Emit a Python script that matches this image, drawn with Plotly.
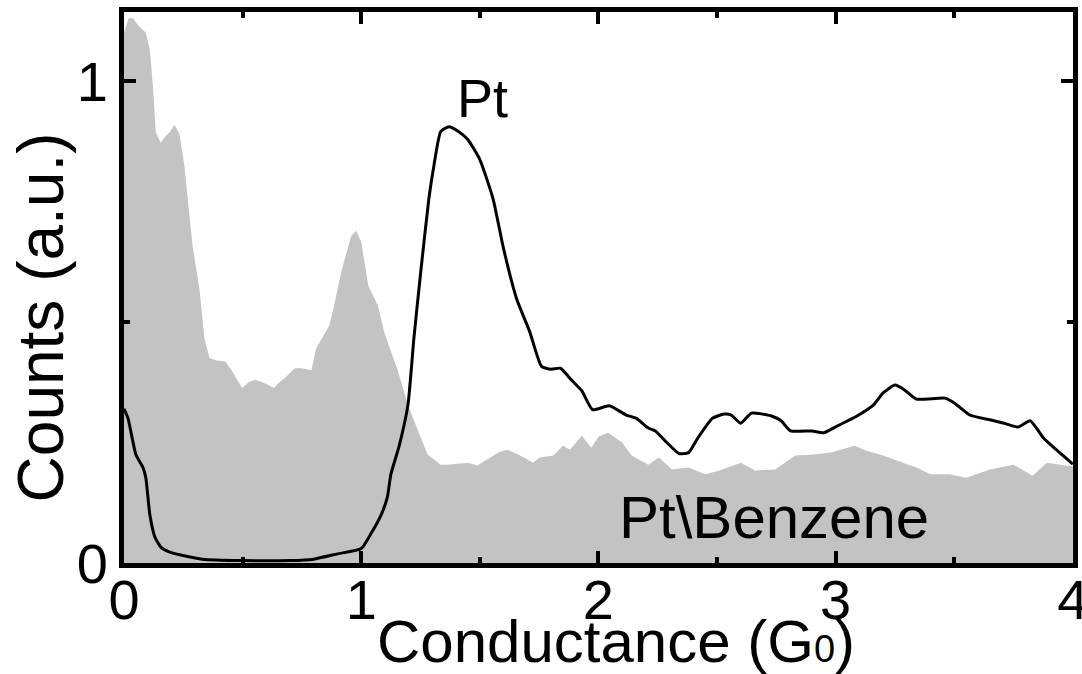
import plotly.graph_objects as go

# Pt\Benzene histogram (grey filled area)
benz_x = [0.0, 0.02, 0.038, 0.06, 0.092, 0.109, 0.121, 0.134, 0.155, 0.175, 0.192, 0.213, 0.234,
          0.255, 0.276, 0.289, 0.318, 0.339, 0.36, 0.39, 0.427, 0.456, 0.498, 0.525, 0.552, 0.594,
          0.632, 0.655, 0.678, 0.72, 0.749, 0.79, 0.81, 0.84, 0.866, 0.883, 0.916, 0.958, 0.979,
          1.0, 1.03, 1.07, 1.096, 1.155, 1.197, 1.24, 1.28, 1.305, 1.335, 1.364, 1.405, 1.45, 1.49,
          1.544, 1.58, 1.615, 1.67, 1.724, 1.753, 1.81, 1.85, 1.88, 1.93, 1.97, 2.0, 2.04, 2.10,
          2.14, 2.21, 2.255, 2.31, 2.38, 2.45, 2.51, 2.60, 2.66, 2.745, 2.83, 2.91, 2.98, 3.08,
          3.13, 3.20, 3.26, 3.34, 3.40, 3.48, 3.55, 3.65, 3.75, 3.83, 3.89, 3.96, 4.0]
benz_y = [1.10, 1.13, 1.13, 1.115, 1.10, 1.064, 0.995, 0.893, 0.872, 0.885, 0.893, 0.909, 0.89,
          0.823, 0.72, 0.658, 0.569, 0.466, 0.425, 0.42, 0.418, 0.398, 0.363, 0.375, 0.38, 0.373,
          0.363, 0.375, 0.384, 0.404, 0.404, 0.40, 0.445, 0.47, 0.493, 0.528, 0.604, 0.679, 0.689,
          0.666, 0.575, 0.534, 0.48, 0.398, 0.328, 0.274, 0.225, 0.215, 0.204, 0.204, 0.206, 0.208,
          0.202, 0.219, 0.23, 0.235, 0.223, 0.208, 0.219, 0.223, 0.243, 0.235, 0.264, 0.239, 0.262,
          0.27, 0.25, 0.223, 0.204, 0.219, 0.194, 0.198, 0.184, 0.192, 0.208, 0.192, 0.194, 0.223,
          0.225, 0.229, 0.243, 0.233, 0.223, 0.212, 0.198, 0.184, 0.184, 0.177, 0.194, 0.204, 0.181,
          0.208, 0.202, 0.2]

# Pt histogram (black line)
pt_x = [0.0, 0.017, 0.05, 0.08, 0.092, 0.109, 0.13, 0.155, 0.19, 0.234, 0.33, 0.5, 0.7, 0.80,
        0.90, 1.0, 1.04, 1.084, 1.11, 1.125, 1.16, 1.197, 1.222, 1.25, 1.285, 1.306, 1.335, 1.37,
        1.41, 1.45, 1.50, 1.556, 1.60, 1.655, 1.71, 1.76, 1.80, 1.84, 1.88, 1.93, 1.975, 2.046,
        2.117, 2.16, 2.21, 2.24, 2.28, 2.34, 2.38, 2.42, 2.48, 2.53, 2.56, 2.60, 2.645, 2.73, 2.77,
        2.81, 2.90, 2.95, 3.01, 3.09, 3.16, 3.20, 3.25, 3.29, 3.34, 3.46, 3.50, 3.565, 3.65, 3.71,
        3.77, 3.82, 3.875, 3.93, 4.0]
pt_y = [0.32, 0.30, 0.225, 0.198, 0.177, 0.10, 0.054, 0.033, 0.023, 0.017, 0.008, 0.005, 0.005,
        0.008, 0.019, 0.03, 0.06, 0.10, 0.136, 0.184, 0.243, 0.328, 0.466, 0.60, 0.755, 0.823,
        0.895, 0.905, 0.895, 0.878, 0.837, 0.755, 0.652, 0.548, 0.48, 0.408, 0.402, 0.404, 0.383,
        0.357, 0.318, 0.326, 0.307, 0.30, 0.28, 0.274, 0.254, 0.227, 0.229, 0.26, 0.30, 0.309,
        0.307, 0.29, 0.311, 0.305, 0.295, 0.274, 0.274, 0.27, 0.285, 0.305, 0.328, 0.353, 0.369,
        0.359, 0.34, 0.342, 0.332, 0.307, 0.297, 0.29, 0.282, 0.295, 0.26, 0.235, 0.205]

x_title = "Conductance (G<span style='font-size:38px'>0</span>)"
y_title = "Counts (a.u.)"

FONT = "Liberation Sans, Arial, sans-serif"

fig = go.Figure()
fig.add_trace(go.Scatter(x=benz_x, y=benz_y, mode="lines", fill="tozeroy",
                         fillcolor="#c3c3c3", line=dict(width=0, color="#c3c3c3"),
                         name="Pt\\Benzene", showlegend=False, hoverinfo="skip"))
fig.add_trace(go.Scatter(x=pt_x, y=pt_y, mode="lines",
                         line=dict(color="black", width=3, shape="spline", smoothing=0.5),
                         name="Pt", showlegend=False))

fig.add_annotation(x=1.51, y=0.965, text="Pt", showarrow=False,
                   font=dict(family=FONT, size=54, color="black"))
fig.add_annotation(x=2.74, y=0.095, text="Pt\\Benzene", showarrow=False,
                   font=dict(family=FONT, size=60, color="black"))

# axis titles placed precisely as paper-anchored annotations
fig.add_annotation(xref="paper", yref="paper", x=0.518, y=-0.142, text=x_title,
                   showarrow=False, xanchor="center", yanchor="middle",
                   font=dict(family=FONT, size=60, color="black"))
fig.add_annotation(xref="paper", yref="paper", x=-0.087, y=0.4465, text=y_title,
                   showarrow=False, xanchor="center", yanchor="middle", textangle=-90,
                   font=dict(family=FONT, size=64, color="black"))

axis_common = dict(showline=True, linewidth=5, linecolor="black", mirror="allticks",
                   ticks="inside", ticklen=12, tickwidth=4, tickcolor="black",
                   showgrid=False, zeroline=False, automargin=False,
                   ticklabeloverflow="allow",
                   tickfont=dict(family=FONT, size=56, color="black"),
                   minor=dict(ticks="inside", ticklen=6, tickwidth=4, tickcolor="black", dtick=0.5))

fig.update_xaxes(range=[0, 4.0005], tick0=0, dtick=1, ticklabelstandoff=-16, **axis_common)
fig.update_yaxes(range=[0, 1.143], tick0=0, dtick=1, **axis_common)

fig.update_layout(width=1082, height=674, margin=dict(l=124, r=9, t=12, b=111, autoexpand=False),
                  plot_bgcolor="white", paper_bgcolor="white", showlegend=False)

fig.write_html("out.html")
